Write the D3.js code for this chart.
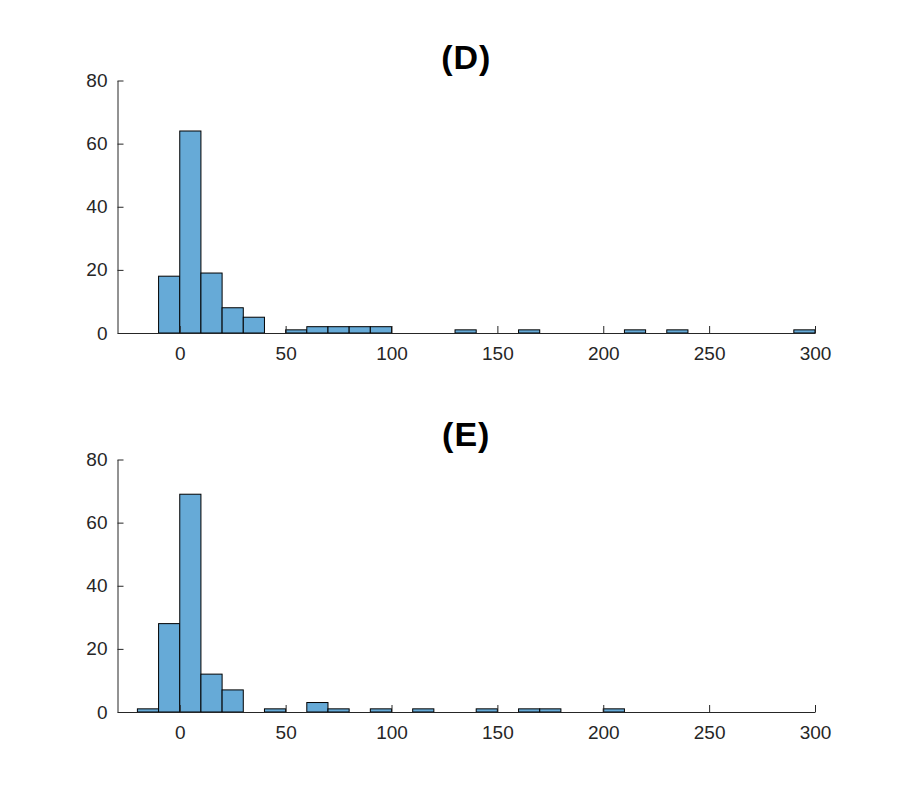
<!DOCTYPE html>
<html>
<head>
<meta charset="utf-8">
<script src="https://cdn.jsdelivr.net/npm/d3@7"></script>
<style>
  html, body { margin: 0; padding: 0; background: #fff; }
  svg { display: block; }
  text { font-family: "Liberation Sans", Arial, Helvetica, sans-serif; }
</style>
</head>
<body>
<svg id="chart" width="900" height="800"></svg>
<script>
// ---- data ----
const binWidth = 10;
const titles = ["(D)", "(E)"];
const binStartsD = [-10, 0, 10, 20, 30, 50, 60, 70, 80, 90, 130, 160, 210, 230, 290];
const countsD    = [18, 64, 19, 8, 5, 1, 2, 2, 2, 2, 1, 1, 1, 1, 1];
const binStartsE = [-20, -10, 0, 10, 20, 40, 60, 70, 90, 110, 140, 160, 170, 200];
const countsE    = [1, 28, 69, 12, 7, 1, 3, 1, 1, 1, 1, 1, 1, 1];
const xTicks = [0, 50, 100, 150, 200, 250, 300];
const yTicks = [0, 20, 40, 60, 80];
const xDomain = [-29.4, 300];
const yDomain = [0, 80];

const panels = [
  { title: titles[0], starts: binStartsD, counts: countsD, top: 80.5, bottom: 333, titleY: 69 },
  { title: titles[1], starts: binStartsE, counts: countsE, top: 459.5, bottom: 712, titleY: 446 }
];

const svg = d3.select("#chart");
const left = 117.5, right = 815;
const axisColor = "#262626";
const barColor = "#66AAD7";

panels.forEach(p => {
  const x = d3.scaleLinear().domain(xDomain).range([left, right]);
  const y = d3.scaleLinear().domain(yDomain).range([p.bottom, p.top]);
  const g = svg.append("g");

  // bars
  g.selectAll("rect.bar")
    .data(p.starts.map((s, i) => ({ s, c: p.counts[i] })))
    .join("rect")
    .attr("class", "bar")
    .attr("x", d => x(d.s))
    .attr("width", d => x(d.s + binWidth) - x(d.s))
    .attr("y", d => y(d.c))
    .attr("height", d => y(0) - y(d.c))
    .attr("fill", barColor)
    .attr("stroke", "#000")
    .attr("stroke-width", 1);

  // x axis (ticks pointing inward / up)
  const xAxis = d3.axisBottom(x).tickValues(xTicks).tickSizeInner(-7).tickSizeOuter(0).tickPadding(14);
  const gx = g.append("g").attr("transform", `translate(0,${p.bottom})`).call(xAxis);
  gx.select(".domain").attr("stroke", axisColor).attr("stroke-width", 1);
  gx.selectAll(".tick line").attr("stroke", axisColor);
  gx.selectAll(".tick text").attr("font-size", 19).attr("fill", axisColor);

  // y axis (ticks pointing inward / right)
  const yAxis = d3.axisLeft(y).tickValues(yTicks).tickSizeInner(-6).tickSizeOuter(0).tickPadding(10);
  const gy = g.append("g").attr("transform", `translate(${left},0)`).call(yAxis);
  gy.select(".domain").attr("stroke", axisColor).attr("stroke-width", 1);
  gy.selectAll(".tick line").attr("stroke", axisColor);
  gy.selectAll(".tick text").attr("font-size", 19).attr("fill", axisColor);

  // title
  g.append("text")
    .attr("x", (left + right) / 2)
    .attr("y", p.titleY)
    .attr("text-anchor", "middle")
    .attr("font-size", 34)
    .attr("font-weight", "bold")
    .attr("letter-spacing", 1)
    .attr("fill", "#000")
    .text(p.title);
});
</script>
</body>
</html>
